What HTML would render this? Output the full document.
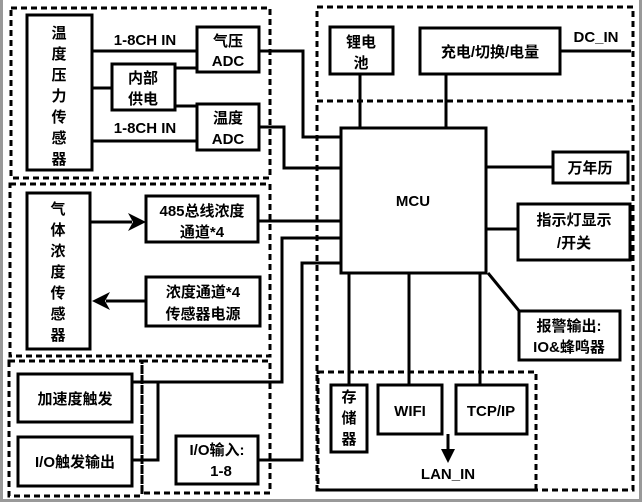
<!DOCTYPE html>
<html><head><meta charset="utf-8"><style>
html,body{margin:0;padding:0;background:#fff}
svg{display:block}
text{font-family:"Liberation Sans","Noto Sans CJK SC",sans-serif;font-weight:bold;font-size:15px;fill:#000;text-anchor:middle}
</style></head><body>
<svg width="642" height="502" viewBox="0 0 642 502" xmlns="http://www.w3.org/2000/svg">
<rect x="0" y="0" width="642" height="502" fill="#fff"/>
<rect x="0" y="0" width="3" height="502" fill="#999"/>
<rect x="639" y="0" width="3" height="502" fill="#999"/>
<rect x="0" y="499" width="642" height="3" fill="#999"/>
<g fill="none" stroke="#000" stroke-width="3" stroke-dasharray="6,4">
<rect x="11" y="8" width="259" height="170"/>
<rect x="10" y="184" width="260" height="172"/>
<rect x="9" y="361" width="133" height="135"/>
<rect x="142" y="361" width="128" height="132"/>
<rect x="317" y="7" width="316" height="94"/>
<rect x="317" y="101" width="316" height="389"/>
<rect x="318" y="372" width="218" height="118"/>
</g>
<g fill="none" stroke="#000" stroke-width="3">
<rect x="27" y="15" width="65" height="155"/>
<rect x="197" y="27" width="62" height="45"/>
<rect x="112" y="64" width="63" height="46"/>
<rect x="197" y="104" width="62" height="46"/>
<rect x="27" y="193" width="63" height="156"/>
<rect x="146" y="196" width="112" height="46"/>
<rect x="146" y="277" width="114" height="49"/>
<rect x="18" y="374" width="114" height="48"/>
<rect x="18" y="437" width="114" height="49"/>
<rect x="176" y="436" width="82" height="48"/>
<rect x="341" y="128" width="145" height="145"/>
<rect x="330" y="27" width="63" height="47"/>
<rect x="420" y="28" width="140" height="46"/>
<rect x="553" y="152" width="75" height="31"/>
<rect x="518" y="204" width="112" height="56"/>
<rect x="519" y="311" width="101" height="49"/>
<rect x="331" y="385" width="36" height="67"/>
<rect x="378" y="385" width="64" height="49"/>
<rect x="456" y="385" width="71" height="49"/>
<polyline points="92,51 197,51"/>
<polyline points="92,88 112,88"/>
<polyline points="175,68 197,68"/>
<polyline points="175,106 197,106"/>
<polyline points="92,141 197,141"/>
<polyline points="259,51 303,51 303,137 341,137"/>
<polyline points="259,127 284,127 284,168 341,168"/>
<polyline points="258,221 341,221"/>
<polyline points="132,382 282,382 282,238 341,238"/>
<polyline points="158,382 158,460 132,460"/>
<polyline points="258,460 302,460 302,263 341,263"/>
<polyline points="360,74 360,128"/>
<polyline points="446,74 446,128"/>
<polyline points="560,51 631,51"/>
<polyline points="486,167 553,167"/>
<polyline points="486,229 518,229"/>
<polyline points="488,273 520,312"/>
<polyline points="349,273 349,385"/>
<polyline points="409,273 409,385"/>
<polyline points="480,273 480,385"/>
<polyline points="90,222 132,222"/>
<polyline points="146,301 106,301"/>
<polyline points="448,434 448,452"/>
</g>
<polygon points="146,222 128,213 133,222 128,231" fill="#000"/>
<polygon points="92,301 110,292 105,301 110,310" fill="#000"/>
<polygon points="448,463 441,449 455,449" fill="#000"/>
<g>
<text x="59" y="38">温</text><text x="59" y="59">度</text><text x="59" y="80">压</text><text x="59" y="101">力</text><text x="59" y="122">传</text><text x="59" y="143">感</text><text x="59" y="164">器</text>
<text x="145" y="45">1-8CH IN</text>
<text x="145" y="133">1-8CH IN</text>
<text x="228" y="46">气压</text><text x="228" y="66">ADC</text>
<text x="143" y="83">内部</text><text x="143" y="104">供电</text>
<text x="228" y="123">温度</text><text x="228" y="144">ADC</text>
<text x="58" y="214">气</text><text x="58" y="235">体</text><text x="58" y="256">浓</text><text x="58" y="277">度</text><text x="58" y="298">传</text><text x="58" y="319">感</text><text x="58" y="340">器</text>
<text x="202" y="216">485总线浓度</text><text x="202" y="237">通道*4</text>
<text x="203" y="297">浓度通道*4</text><text x="203" y="319">传感器电源</text>
<text x="75" y="404">加速度触发</text>
<text x="75" y="467">I/O触发输出</text>
<text x="217" y="455">I/O输入:</text><text x="221" y="476">1-8</text>
<text x="361" y="47">锂电</text><text x="361" y="68">池</text>
<text x="490" y="57">充电/切换/电量</text>
<text x="596" y="42">DC_IN</text>
<text x="413" y="206">MCU</text>
<text x="590" y="173">万年历</text>
<text x="574" y="225">指示灯显示</text><text x="574" y="248">/开关</text>
<text x="569" y="331">报警输出:</text><text x="569" y="352">IO&amp;蜂鸣器</text>
<text x="349" y="402">存</text><text x="349" y="423">储</text><text x="349" y="444">器</text>
<text x="410" y="416">WIFI</text>
<text x="491" y="416">TCP/IP</text>
<text x="448" y="479">LAN_IN</text>
</g>
</svg>
</body></html>
